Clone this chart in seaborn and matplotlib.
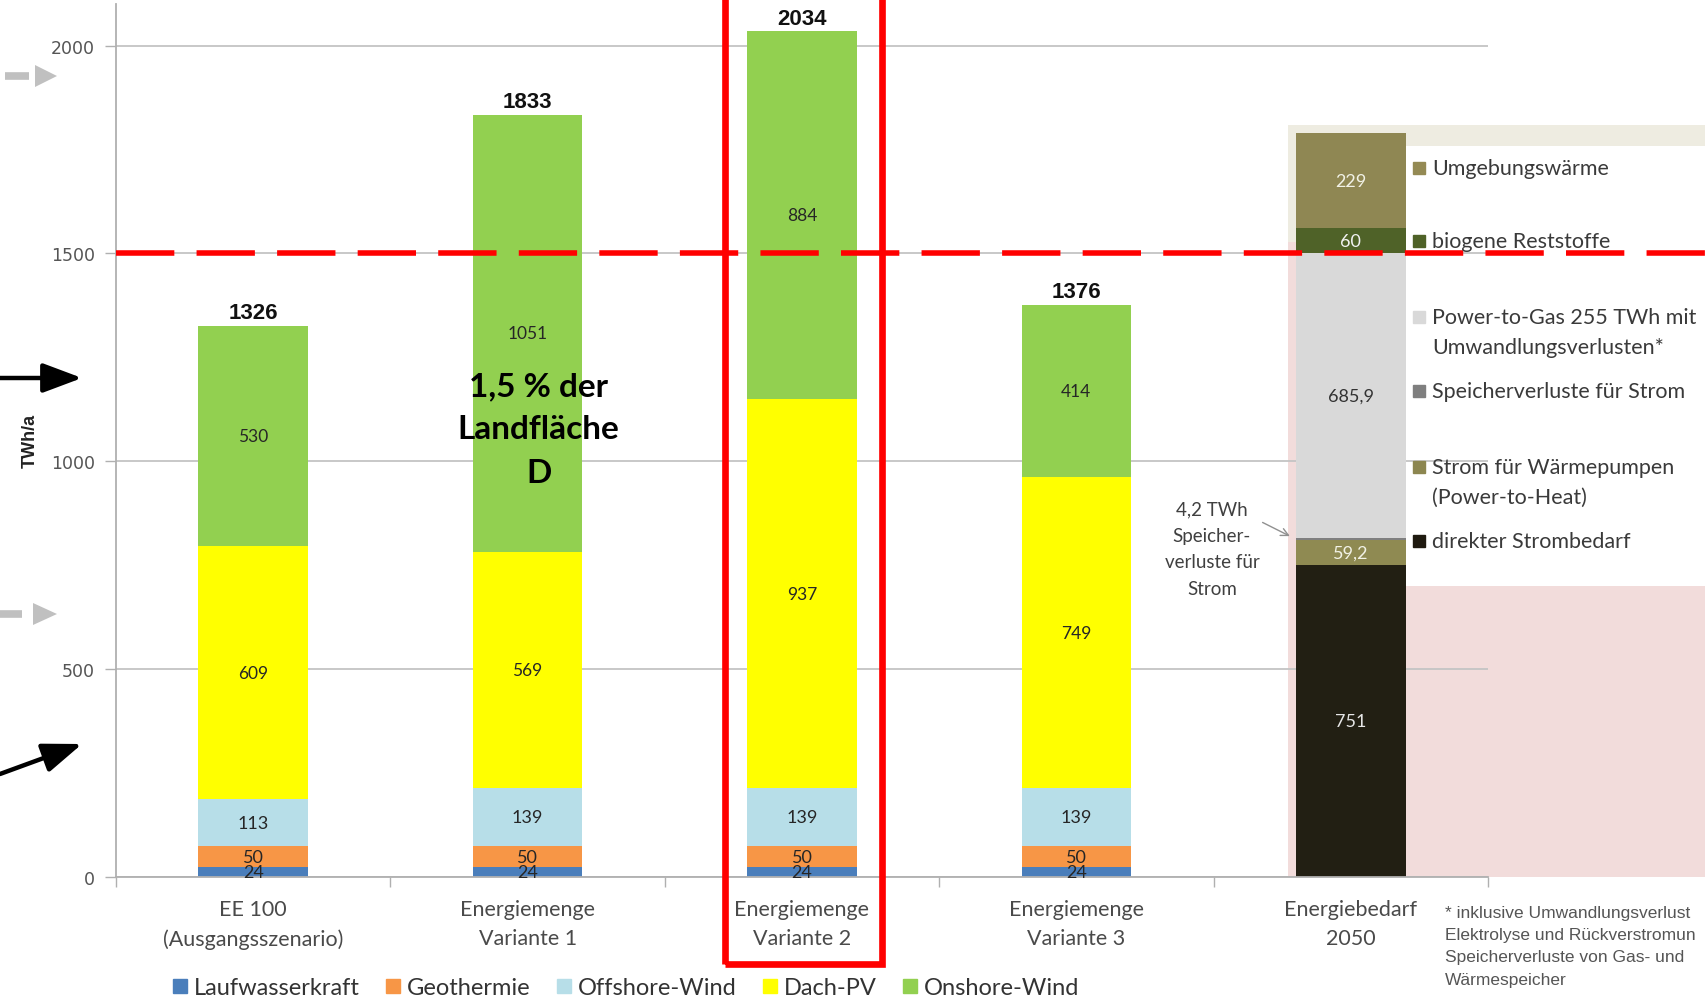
import numpy as np
import seaborn as sns
import matplotlib.pyplot as plt
from matplotlib.patches import Rectangle, Polygon
from matplotlib.lines import Line2D

# --- data ---
categories = ['EE 100\n(Ausgangsszenario)', 'Energiemenge\nVariante 1', 'Energiemenge\nVariante 2',
              'Energiemenge\nVariante 3', 'Energiebedarf\n2050']
supply_names = ['Laufwasserkraft', 'Geothermie', 'Offshore-Wind', 'Dach-PV', 'Onshore-Wind']
supply_colors = ['#4a7ebb', '#f79646', '#b7dee8', '#ffff00', '#92d050']
laufwasser = [24, 24, 24, 24, 0]
geothermie = [50, 50, 50, 50, 0]
offshore = [113, 139, 139, 139, 0]
dach_pv = [609, 569, 937, 749, 0]
onshore = [530, 1051, 884, 414, 0]
supply = [laufwasser, geothermie, offshore, dach_pv, onshore]

demand_names = ['direkter Strombedarf', 'Strom für Wärmepumpen', 'Speicherverluste für Strom',
                'Power-to-Gas', 'biogene Reststoffe', 'Umgebungswärme']
demand_colors = ['#221f13', '#8f8a52', '#808080', '#d9d9d9', '#4f6228', '#8f8753']
demand_values = [751, 59.2, 4.2, 685.9, 60, 229]
demand_label_colors = ['#e6e6e6', '#f2f2e6', None, '#333333', '#f2f2f2', '#f2f2e6']

right_legend = [('Umgebungswärme', '#948a54', [1706]),
                ('biogene Reststoffe', '#4f6228', [1530]),
                ('Power-to-Gas 255 TWh mit\nUmwandlungsverlusten*', '#d9d9d9', [1347, 1275]),
                ('Speicherverluste für Strom', '#7f7f7f', [1169]),
                ('Strom für Wärmepumpen\n(Power-to-Heat)', '#8c8650', [986, 914]),
                ('direkter Strombedarf', '#1f1a10', [808])]

limit = 1500

sns.set_style('white')
plt.rcParams['font.family'] = ['DejaVu Sans']

W, H = 1706, 1004
fig = plt.figure(figsize=(W / 100, H / 100), dpi=100)
ax = fig.add_axes([0.068, 0.1255, 0.8042, 0.8695])

# background boxes behind the demand bar
bg = [((3.77, 1528), 0.43, 281, '#eeece1'), ((3.77, 1759), 1.52, 50, '#eeece1'),
      ((3.77, 0), 0.43, 1528, '#f2dcdb'), ((4.2, 0), 1.09, 700, '#f2dcdb')]
for xy, w, h, c in bg:
    ax.add_patch(Rectangle(xy, w, h, color=c, zorder=0.2, clip_on=False, lw=0))

# stacked bars: draw cumulative sums from top layer down
cum_s = np.cumsum(np.array(supply, dtype=float), axis=0)
for i in reversed(range(len(supply))):
    sns.barplot(x=categories, y=cum_s[i], color=supply_colors[i], width=0.4, saturation=1,
                errorbar=None, order=categories, ax=ax, zorder=1, linewidth=0)
dem = np.zeros((len(demand_values), len(categories)))
dem[:, 4] = demand_values
cum_d = np.cumsum(dem, axis=0)
for i in reversed(range(len(demand_values))):
    sns.barplot(x=categories, y=cum_d[i], color=demand_colors[i], width=0.4, saturation=1,
                errorbar=None, order=categories, ax=ax, zorder=1, linewidth=0)

# segment labels
for j in range(4):
    for i in range(len(supply)):
        v = supply[i][j]
        mid = cum_s[i][j] - v / 2
        fs = 13 if i < 3 else 12.5
        ax.text(j, mid, str(v), ha='center', va='center', fontsize=fs,
                family='Lato', color='#262626', zorder=5)
    tot = int(cum_s[-1][j])
    ax.annotate(str(tot), (j, tot), xytext=(0, 2), textcoords='offset points',
                ha='center', va='bottom', fontsize=16, fontweight='bold',
                family='Liberation Sans', color='#111111')
for i, v in enumerate(demand_values):
    if demand_label_colors[i] is None:
        continue
    mid = cum_d[i][4] - v / 2
    txt = ('%g' % v).replace('.', ',')
    ax.text(4, mid, txt, ha='center', va='center', fontsize=13, family='Lato',
            color=demand_label_colors[i], zorder=5)

# axes styling
ax.set_xlim(-0.5, 4.5)
ax.set_ylim(0, 2100)
ax.set_xlabel('')
ax.set_ylabel('')
ax.set_yticks([0, 500, 1000, 1500, 2000])
ax.yaxis.grid(True, color='#c4c4c4', lw=1.3)
ax.set_axisbelow(True)
ax.tick_params(axis='y', length=8, width=1, color='#b0b0b0', pad=7,
               labelsize=12.5, labelcolor='#555555', left=True)
ax.set_xticks(range(5))
ax.set_xticklabels(categories, family='Lato', fontsize=15.5, color='#4a4a4a', linespacing=1.55)
ax.set_xticks(np.arange(-0.5, 5, 1), minor=True)
ax.tick_params(axis='x', which='major', length=0, pad=16)
ax.tick_params(axis='x', which='minor', length=7, width=1, color='#b0b0b0', bottom=True)
for s in ['top', 'right']:
    ax.spines[s].set_visible(False)
for s in ['left', 'bottom']:
    ax.spines[s].set_color('#b0b0b0')
    ax.spines[s].set_linewidth(1.3)

# 1500 limit line and highlight box
ax.plot([-0.5, 5.3], [limit, limit], color='#ff0000', lw=4, dashes=(10.5, 4),
        clip_on=False, zorder=4)
ax.add_patch(Rectangle((1.72, -210), 0.57, 2400, fill=False, ec='#ff0000', lw=4.8,
                       clip_on=False, zorder=6))

# right-hand legend for the demand bar
for label, c, ys in right_legend:
    ax.plot([4.25], [ys[0]], marker='s', ms=8.5, color=c, ls='none', clip_on=False, zorder=6)
    for k, line in enumerate(label.split('\n')):
        ax.text(4.296, ys[k], line, ha='left', va='center', fontsize=15.5, family='Lato',
                color='#3a3a3a', zorder=6)

# annotations
ax.text(1.04, 1078, '1,5 % der\nLandfläche\nD', ha='center', va='center', fontsize=24,
        fontweight='bold', family='Lato', color='black', linespacing=1.6, zorder=6)
ax.annotate('4,2 TWh\nSpeicher-\nverluste für\nStrom', xy=(3.778, 820), xytext=(3.494, 790),
            ha='center', va='center', fontsize=13.5, family='Lato', color='#404040',
            linespacing=1.7,
            arrowprops=dict(arrowstyle='->', color='#909090', lw=1,
                            shrinkA=0, shrinkB=0, relpos=(0.97, 0.8)))

fig.text(30 / W, 1 - 441 / H, 'TWh/a', rotation=90, ha='center', va='center',
         fontsize=13, fontweight='bold', family='Liberation Sans', color='#222222')

# arrows left of the axis (figure pixels)
for (x0, y0, x1, y1) in [(0, 625, 82, 625), (0, 229, 82, 259)]:
    ax.annotate('', xy=(x1, y1), xytext=(x0, y0), xycoords='figure pixels',
                textcoords='figure pixels',
                arrowprops=dict(arrowstyle='-|>,head_length=1.2,head_width=0.45',
                                color='black', lw=3.2, mutation_scale=20, shrinkA=0, shrinkB=0))
# grey dash + arrowhead marks
for (d0, d1, h0, h1, y) in [(5, 29, 35, 57, 927), (0, 22, 33, 57, 389)]:
    fig.add_artist(Line2D([d0 / W, d1 / W], [y / H, y / H], color='#c0c0c0', lw=5.5,
                          transform=fig.transFigure, solid_capstyle='butt'))
    fig.add_artist(Polygon([[h0 / W, (y + 11) / H], [h1 / W, y / H], [h0 / W, (y - 11) / H]],
                           closed=True, color='#c0c0c0', lw=0, transform=fig.transFigure))

# footnote
fig.text(1445 / W, 1 - 906 / H,
         '* inklusive Umwandlungsverlust\nElektrolyse und Rückverstromun\n'
         'Speicherverluste von Gas- und\nWärmespeicher',
         ha='left', va='top', fontsize=12.5, family='Liberation Sans', color='#555555',
         linespacing=1.6)

# bottom legend
handles = [Line2D([], [], marker='s', ms=10, ls='none', color=c) for c in supply_colors]
fig.legend(handles, supply_names, loc='center', bbox_to_anchor=(0.367, 0.015), ncol=5,
           frameon=False, handlelength=0.6, handletextpad=0.3, columnspacing=1.1,
           prop={'family': 'Lato', 'size': 17}, labelcolor='#333333')

fig.savefig('out.png', dpi=100)
